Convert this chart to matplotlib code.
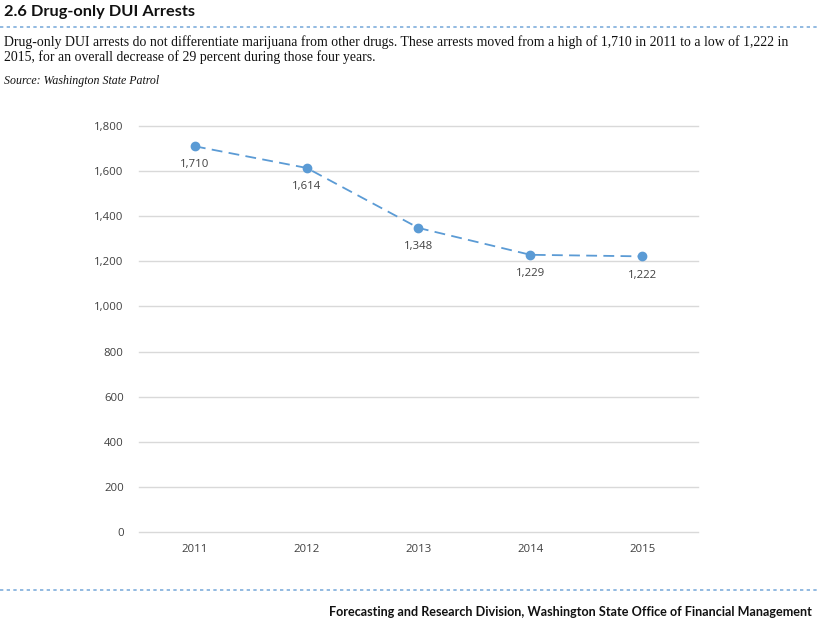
import matplotlib
matplotlib.use("Agg")
import matplotlib.pyplot as plt

years = ["2011", "2012", "2013", "2014", "2015"]
arrests = [1710, 1614, 1348, 1229, 1222]
yticks = [0, 200, 400, 600, 800, 1000, 1200, 1400, 1600, 1800]

W, H = 820, 629
fig = plt.figure(figsize=(W / 100, H / 100), dpi=100)

def fx(px):
    return px / W

def fy(py):
    return 1 - py / H

ax = fig.add_axes([fx(139), fy(532), fx(698) - fx(139), fy(126) - fy(532)])
x = list(range(len(years)))
blue = "#5B9BD5"
ax.plot(x, arrests, linestyle=(0, (6, 3.5)), color=blue, linewidth=1.3,
        marker="o", markersize=6, markerfacecolor=blue, markeredgecolor=blue)
for xi, v in zip(x, arrests):
    ax.annotate(f"{v:,}", (xi, v), xytext=(0, -9.5), textcoords="offset points",
                ha="center", va="top", fontsize=8.2, color="#404040", family="Open Sans")

ax.set_xlim(-0.5, len(years) - 0.5)
ax.set_ylim(0, 1800)
ax.set_yticks(yticks)
ax.set_yticklabels([f"{t:,}" for t in yticks])
ax.set_xticks(x)
ax.set_xticklabels(years)
ax.grid(axis="y", color="#D9D9D9", linewidth=1)
for gl in ax.get_ygridlines():
    gl.set_clip_on(False)
ax.set_axisbelow(True)
for s in ax.spines.values():
    s.set_visible(False)
ax.tick_params(axis="both", length=0, labelsize=8.2, colors="#404040")
ax.tick_params(axis="y", pad=11)
ax.tick_params(axis="x", pad=9)
for lab in ax.get_xticklabels() + ax.get_yticklabels():
    lab.set_family("Open Sans")

fig.text(fx(4), fy(12), "2.6 Drug-only DUI Arrests", fontsize=11.8, fontweight="bold",
         family="Lato", va="center", ha="left", color="#111111")
fig.add_artist(plt.Line2D([0, 1], [fy(27), fy(27)], color="#7FAEDC", linewidth=1.2,
                          linestyle=(0, (2, 2))))
fig.text(fx(4), fy(42), "Drug-only DUI arrests do not differentiate marijuana from other drugs. These arrests moved from a high of 1,710 in 2011 to a low of 1,222 in",
         fontsize=9.9, family="Liberation Serif", va="center", ha="left", color="#111111")
fig.text(fx(4), fy(57), "2015, for an overall decrease of 29 percent during those four years.",
         fontsize=9.9, family="Liberation Serif", va="center", ha="left", color="#111111")
fig.text(fx(4), fy(81), "Source: Washington State Patrol", fontsize=8.6, style="italic",
         family="Liberation Serif", va="center", ha="left", color="#111111")
fig.add_artist(plt.Line2D([0, 1], [fy(590), fy(590)], color="#7FAEDC", linewidth=1.2,
                          linestyle=(0, (2, 2))))
fig.text(fx(812), fy(612), "Forecasting and Research Division, Washington State Office of Financial Management",
         fontsize=9.05, fontweight="bold", family="Lato", va="center", ha="right", color="#111111")

fig.savefig("out.png", dpi=100)
